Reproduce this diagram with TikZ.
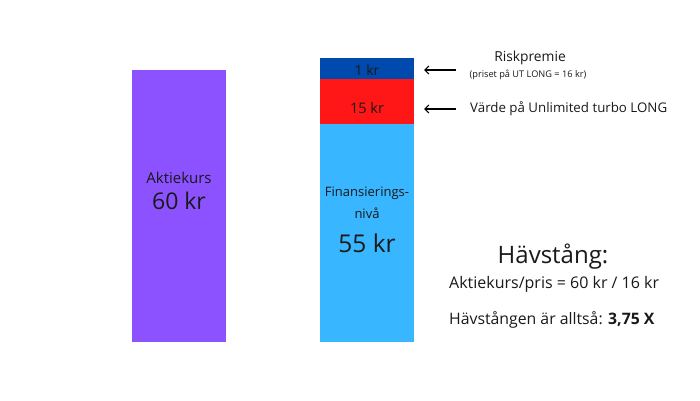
\documentclass[tikz,border=0pt]{standalone}
\usepackage{fontspec}
\setmainfont{Open Sans}
\usetikzlibrary{arrows.meta}
\definecolor{purp}{HTML}{8C52FF}
\definecolor{dblue}{HTML}{004AAD}
\definecolor{red1}{HTML}{FF1616}
\definecolor{lblue}{HTML}{38B6FF}
\tikzset{
  bar/.style={draw=none, inner sep=0pt, anchor=north west},
  lbl/.style={inner sep=0pt, text=black!90},
  arr/.style={-{Straight Barb[length=4pt,width=8pt]}, line width=1.1pt},
}
\begin{document}
\begin{tikzpicture}[x=1pt,y=-1pt]
\useasboundingbox (0,0) rectangle (700,400);
\fill[white] (0,0) rectangle (700,400);
% bars
\node[bar, fill=purp, minimum width=94pt, minimum height=272pt] (stock) at (132,70) {};
\node[bar, fill=dblue, minimum width=94pt, minimum height=21pt] (risk) at (320,58) {};
\node[bar, fill=red1, minimum width=94pt, minimum height=45pt] (val) at (320,79) {};
\node[bar, fill=lblue, minimum width=94pt, minimum height=218pt] (fin) at (320,124) {};
% bar labels
\node[lbl, font=\fontsize{15}{18}\selectfont] (ak) at (179,178) {Aktiekurs};
\node[lbl, font=\fontsize{23}{27}\selectfont] (ak60) at (179,201) {60 kr};
\node[lbl, font=\fontsize{14}{17}\selectfont] (one) at (367,70) {1 kr};
\node[lbl, font=\fontsize{14.5}{17}\selectfont] (fift) at (367,108) {15 kr};
\node[lbl, font=\fontsize{13}{16}\selectfont] (fin1) at (367,193) {Finansierings-};
\node[lbl, font=\fontsize{13}{16}\selectfont] (fin2) at (367,213) {nivå};
\node[lbl, font=\fontsize{24.5}{28}\selectfont] (fin55) at (367,243) {55 kr};
% annotations
\coordinate (a1s) at (456,70);
\coordinate (a1e) at (424,70);
\coordinate (a2s) at (456,109);
\coordinate (a2e) at (424,109);
\node[lbl, font=\fontsize{13.8}{16}\selectfont] (rp) at (530,58) {Riskpremie};
\node[lbl, font=\fontsize{9.2}{11}\selectfont] (pr) at (528,75) {(priset på UT LONG = 16 kr)};
\node[lbl, font=\fontsize{13.3}{16}\selectfont, anchor=west] (vd) at (470,109) {Värde på Unlimited turbo LONG};
\draw[arr] (a1s) -- (a1e);
\draw[arr] (a2s) -- (a2e);
% leverage
\node[lbl, font=\fontsize{24}{28}\selectfont] (hv) at (553,257) {Hävstång:};
\node[lbl, font=\fontsize{16}{19}\selectfont, anchor=west] (eq) at (449,284) {Aktiekurs/pris = 60 kr / 16 kr};
\node[lbl, font=\fontsize{15.8}{19}\selectfont, anchor=west] (res) at (449,320) {Hävstången är alltså: \textbf{3,75 X}};
\end{tikzpicture}
\end{document}
